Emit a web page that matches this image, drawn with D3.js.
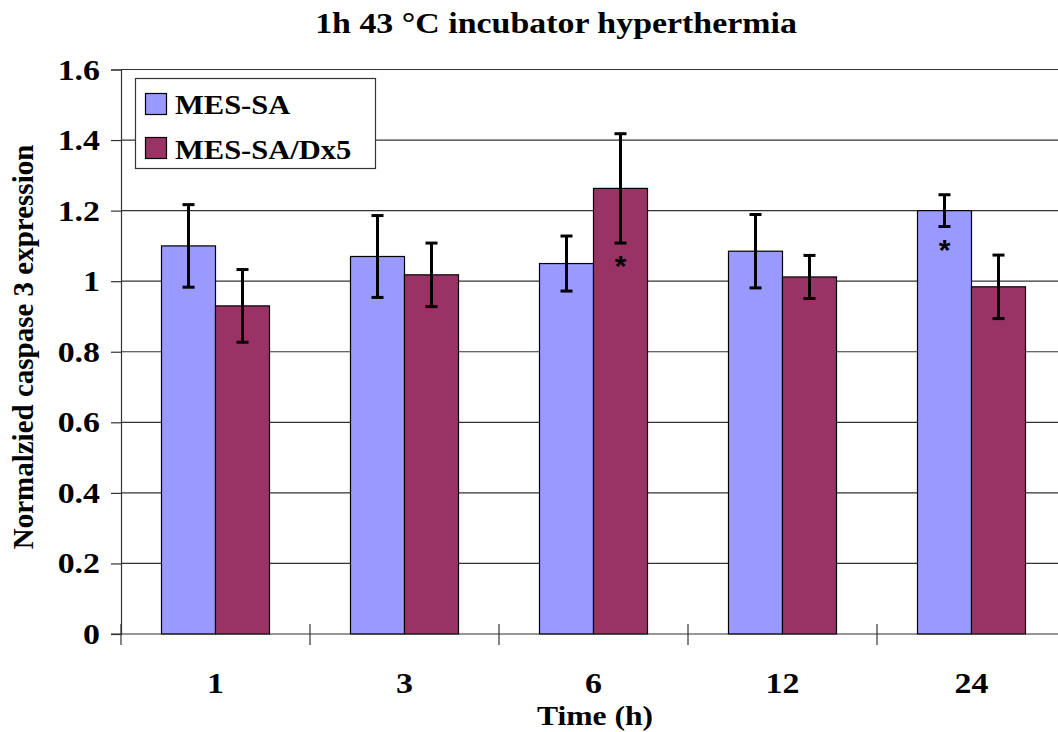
<!DOCTYPE html>
<html>
<head>
<meta charset="utf-8">
<script src="https://cdn.jsdelivr.net/npm/d3@7"></script>
<style>
  html, body { margin: 0; padding: 0; background: #fff; }
  svg { display: block; font-family: "Liberation Serif", "Times New Roman", serif; font-weight: bold; }
</style>
</head>
<body>
<svg id="chart" width="1058" height="732"></svg>
<script>
// Caspase 3 expression after 1h incubator hyperthermia, by time point
const timePoints = ["1", "3", "6", "12", "24"];
const seriesNames = ["MES-SA", "MES-SA/Dx5"];
const mesSA = [1.10, 1.07, 1.05, 1.085, 1.20];
const mesSAErr = [0.117, 0.116, 0.078, 0.104, 0.045];
const dx5 = [0.93, 1.018, 1.263, 1.012, 0.984];
const dx5Err = [0.103, 0.09, 0.155, 0.061, 0.09];
const significant = [[false, false], [false, false], [false, true], [false, false], [true, false]];
const yTicks = [0, 0.2, 0.4, 0.6, 0.8, 1, 1.2, 1.4, 1.6];
const colors = ["#9999FF", "#993366"];

const svg = d3.select("#chart");
const plot = { left: 121, right: 1066, top: 69.5, bottom: 634 };
const WIDEN = 1.13; // horizontal widening of the serif lettering

// text helper: places a horizontally widened label
function label(x, y, str, size, anchor) {
  return svg.append("text")
    .attr("transform", `translate(${x},${y}) scale(${WIDEN},1)`)
    .attr("text-anchor", anchor || "middle")
    .attr("font-size", size)
    .text(str);
}

const x = d3.scaleBand().domain(timePoints).range([plot.left, plot.right]).paddingInner(0).paddingOuter(0);
const inner = d3.scaleBand().domain(seriesNames).range([0, x.bandwidth()]).paddingInner(0).paddingOuter(0.75);
const y = d3.scaleLinear().domain([0, 1.6]).range([plot.bottom, plot.top]);

// gridlines
svg.append("g")
  .selectAll("line")
  .data(yTicks.filter(d => d > 0))
  .join("line")
  .attr("x1", plot.left).attr("x2", plot.right)
  .attr("y1", d => y(d)).attr("y2", d => y(d))
  .attr("stroke", "#333").attr("stroke-width", 1.2);

// y axis
const yAxis = svg.append("g")
  .attr("transform", `translate(${plot.left},0)`)
  .call(d3.axisLeft(y).tickValues(yTicks).tickSize(10).tickFormat(""));
yAxis.select(".domain").attr("stroke", "#333").attr("stroke-width", 1.2);
yAxis.selectAll(".tick line").attr("stroke", "#333").attr("stroke-width", 1.2);
yTicks.forEach(v => label(100, y(v) + 10, v === 0 ? "0" : d3.format("~g")(v), 30, "end"));

// bars
const rows = timePoints.map((t, i) => [
  { t, s: seriesNames[0], v: mesSA[i], e: mesSAErr[i], star: significant[i][0], c: colors[0] },
  { t, s: seriesNames[1], v: dx5[i], e: dx5Err[i], star: significant[i][1], c: colors[1] }
]).flat();

svg.append("g").selectAll("rect")
  .data(rows)
  .join("rect")
  .attr("x", d => x(d.t) + inner(d.s))
  .attr("width", inner.bandwidth())
  .attr("y", d => y(d.v))
  .attr("height", d => y(0) - y(d.v))
  .attr("fill", d => d.c)
  .attr("stroke", "#000").attr("stroke-width", 1.2);

// error bars
const eb = svg.append("g").attr("stroke", "#000").attr("stroke-width", 3);
rows.forEach(d => {
  const cx = x(d.t) + inner(d.s) + inner.bandwidth() / 2;
  eb.append("line").attr("x1", cx).attr("x2", cx).attr("y1", y(d.v + d.e)).attr("y2", y(d.v - d.e));
  [d.v + d.e, d.v - d.e].forEach(v => {
    eb.append("line").attr("x1", cx - 6).attr("x2", cx + 6).attr("y1", y(v)).attr("y2", y(v));
  });
});

// significance markers
svg.append("g").selectAll("text")
  .data(rows.filter(d => d.star))
  .join("text")
  .attr("x", d => x(d.t) + inner(d.s) + inner.bandwidth() / 2)
  .attr("y", d => y(d.v - d.e) + 33)
  .attr("text-anchor", "middle")
  .attr("font-size", 30)
  .attr("font-family", "Liberation Sans, Arial, sans-serif")
  .text("*");

// x axis
const xAxisLine = svg.append("g");
xAxisLine.append("line")
  .attr("x1", plot.left - 10).attr("x2", plot.right)
  .attr("y1", plot.bottom).attr("y2", plot.bottom)
  .attr("stroke", "#333").attr("stroke-width", 1.2);
xAxisLine.selectAll("line.tk")
  .data(timePoints.concat(["end"]))
  .join("line").attr("class", "tk")
  .attr("x1", (d, i) => plot.left + i * x.bandwidth())
  .attr("x2", (d, i) => plot.left + i * x.bandwidth())
  .attr("y1", plot.bottom - 10).attr("y2", plot.bottom + 11)
  .attr("stroke", "#333").attr("stroke-width", 1.2);
timePoints.forEach(t => label(x(t) + x.bandwidth() / 2, 693, t, 30));

// titles
label(556, 33, "1h 43 °C incubator hyperthermia", 30);
label(595, 725, "Time (h)", 28);
svg.append("text")
  .attr("transform", `translate(33,347) rotate(-90)`)
  .attr("text-anchor", "middle").attr("font-size", 29)
  .text("Normalzied caspase 3 expression");

// legend
svg.append("rect").attr("x", 135.5).attr("y", 78.5).attr("width", 240).attr("height", 90)
  .attr("fill", "#fff").attr("stroke", "#333").attr("stroke-width", 1.2);
seriesNames.forEach((s, i) => {
  svg.append("rect").attr("x", 145.5).attr("y", 93.5 + i * 44).attr("width", 21).attr("height", 21)
    .attr("fill", colors[i]).attr("stroke", "#000").attr("stroke-width", 1.2);
  label(175, 114 + i * 45, s, 27, "start");
});
</script>
</body>
</html>
